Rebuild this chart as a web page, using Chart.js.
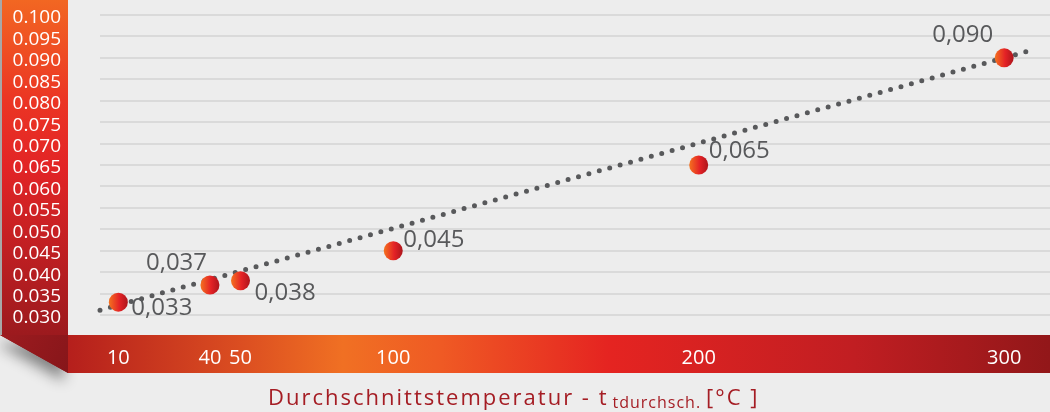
<!DOCTYPE html>
<html>
<head>
<meta charset="utf-8">
<script src="https://cdn.jsdelivr.net/npm/chart.js@4"></script>
<style>
    body { margin: 0; background: #ededed; }
    #wrap { position: relative; width: 1050px; height: 412px; }
    #title {
        position: absolute; left: 268px; top: 381px;
        font-family: 'Open Sans', sans-serif; font-size: 22px; letter-spacing: 2px;
        color: #a51d24; white-space: nowrap;
    }
    #title sub { font-size: 16px; vertical-align: -3px; letter-spacing: 1px; margin-left: 4px; margin-right: 5px; }
</style>
</head>
<body>
<div id="wrap">
    <canvas id="chart" width="1050" height="412"></canvas>
    <div id="title">Durchschnittstemperatur - t<sub>tdurchsch.</sub>[°C ]</div>
</div>
<script>
// Data
const temps = [10, 40, 50, 100, 200, 300];
const values = [0.033, 0.037, 0.038, 0.045, 0.065, 0.090];
const trendTemps = [4, 309];
const trendValues = [0.0311, 0.0918];
const xTicks = [10, 40, 50, 100, 200, 300];
const yTicks = [0.030, 0.035, 0.040, 0.045, 0.050, 0.055, 0.060, 0.065, 0.070, 0.075, 0.080, 0.085, 0.090, 0.095, 0.100];

// where each value label sits next to its point (dx to text left, dy to text middle)
const labelShift = [[13, 6], [-64, -22], [14, 12], [10, -11], [10, -14], [-72, -23]];

const font = "'Open Sans', sans-serif";

// Background pieces: red y band, fold with shadow, gradient x bar
const decor = {
    id: 'decor',
    beforeDraw(chart) {
        const { ctx, chartArea } = chart;
        const bandW = 68;
        const top = chartArea.bottom;
        const bot = chartArea.bottom + 38;
        ctx.save();

        // fold + shadow
        ctx.shadowColor = 'rgba(0,0,0,0.45)';
        ctx.shadowBlur = 14;
        ctx.shadowOffsetX = -4;
        ctx.shadowOffsetY = 8;
        ctx.fillStyle = '#8c181c';
        ctx.beginPath();
        ctx.moveTo(0, top);
        ctx.lineTo(bandW, top);
        ctx.lineTo(bandW, bot);
        ctx.closePath();
        ctx.fill();
        ctx.shadowColor = 'transparent';

        const fold = ctx.createLinearGradient(0, top, bandW, bot);
        fold.addColorStop(0, '#9e1b1f');
        fold.addColorStop(1, '#86161a');
        ctx.fillStyle = fold;
        ctx.fill();

        // y band
        const g = ctx.createLinearGradient(0, 0, 0, top);
        g.addColorStop(0, '#f26722');
        g.addColorStop(0.3, '#eb3524');
        g.addColorStop(0.5, '#e22426');
        g.addColorStop(1, '#9c1a1e');
        ctx.fillStyle = g;
        ctx.fillRect(0, 0, bandW, top);
        ctx.fillStyle = '#a8a8a8';
        ctx.fillRect(0, 0, 2, top);

        // x bar
        const h = ctx.createLinearGradient(bandW, 0, chart.width, 0);
        h.addColorStop(0, '#b51f1c');
        h.addColorStop(0.18, '#dc4f21');
        h.addColorStop(0.28, '#f07023');
        h.addColorStop(0.38, '#ef5a24');
        h.addColorStop(0.55, '#e52421');
        h.addColorStop(0.8, '#c11e22');
        h.addColorStop(1, '#921719');
        ctx.fillStyle = h;
        ctx.fillRect(bandW, top, chart.width - bandW, bot - top);
        ctx.restore();
    }
};

// Value labels next to the points
const valueLabels = {
    id: 'valueLabels',
    afterDatasetsDraw(chart) {
        const { ctx } = chart;
        const meta = chart.getDatasetMeta(0);
        ctx.save();
        ctx.font = '24px ' + font;
        ctx.fillStyle = '#58595b';
        ctx.textBaseline = 'middle';
        ctx.textAlign = 'left';
        meta.data.forEach((pt, i) => {
            const [dx, dy] = labelShift[i];
            ctx.fillText(values[i].toFixed(3).replace('.', ','), pt.x + dx, pt.y + dy);
        });
        ctx.restore();
    }
};

function pointFill(c) {
    const chart = c.chart;
    if (c.type !== 'data' || !chart.chartArea) return '#e52421';
    const x = chart.scales.x.getPixelForValue(c.raw.x);
    const g = chart.ctx.createLinearGradient(x - 10, 0, x + 10, 0);
    g.addColorStop(0, '#f5761f');
    g.addColorStop(0.55, '#e42226');
    g.addColorStop(1, '#a9141b');
    return g;
}

new Chart(document.getElementById('chart'), {
    type: 'scatter',
    data: {
        datasets: [
            {
                data: temps.map((t, i) => ({ x: t, y: values[i] })),
                pointRadius: 9.5,
                pointHoverRadius: 9.5,
                pointBorderWidth: 0,
                backgroundColor: pointFill,
                clip: false
            },
            {
                data: trendTemps.map((t, i) => ({ x: t, y: trendValues[i] })),
                showLine: true,
                pointRadius: 0,
                borderColor: '#58595b',
                borderWidth: 5,
                borderDash: [0, 10.8],
                borderCapStyle: 'round',
                clip: false
            }
        ]
    },
    plugins: [decor, valueLabels],
    options: {
        responsive: false,
        animation: false,
        layout: { autoPadding: false, padding: { top: 0, left: 0, right: 0, bottom: 39 } },
        plugins: { legend: { display: false }, tooltip: { enabled: false } },
        scales: {
            x: {
                type: 'linear',
                min: 4,
                max: 315,
                grid: { display: false },
                border: { display: false },
                afterBuildTicks: axis => { axis.ticks = xTicks.map(v => ({ value: v })); },
                afterFit: axis => { axis.height = 38; },
                ticks: {
                    color: '#ffffff',
                    font: { family: font, size: 20 },
                    padding: 3,
                    maxRotation: 0,
                    autoSkip: false,
                    callback: v => String(v)
                }
            },
            y: {
                min: 0.02533,
                max: 0.1035,
                grid: { color: '#dadada', lineWidth: 2, drawTicks: false },
                border: { display: false },
                afterBuildTicks: axis => { axis.ticks = yTicks.map(v => ({ value: v })); },
                afterFit: axis => {
                    axis.width = 100;
                    axis.paddingTop = 0;
                    axis.paddingBottom = 0;
                },
                ticks: {
                    color: '#ffffff',
                    font: { family: font, size: 19 },
                    padding: 39,
                    labelOffset: 3,
                    autoSkip: false,
                    callback: v => v.toFixed(3)
                }
            }
        }
    }
});
</script>
</body>
</html>
